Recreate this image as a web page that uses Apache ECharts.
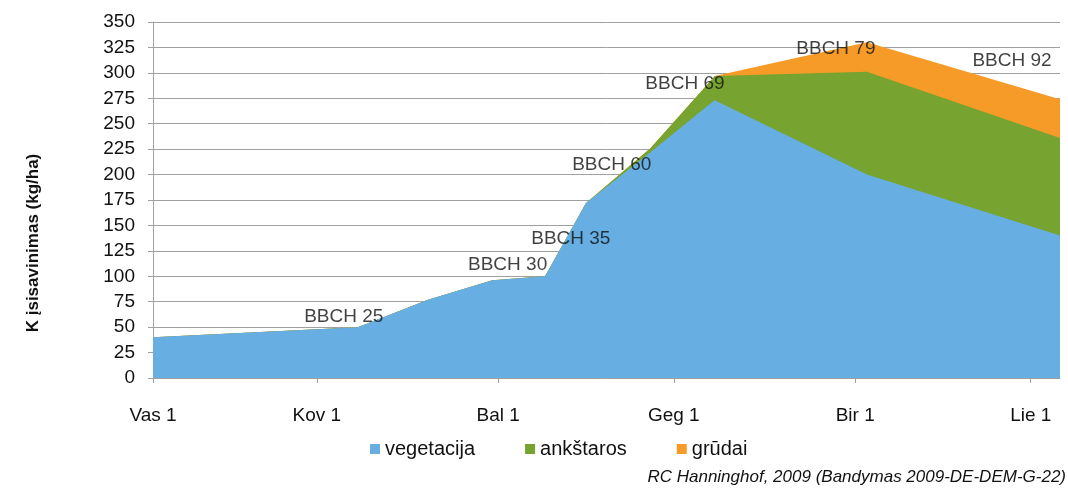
<!DOCTYPE html>
<html>
<head>
<meta charset="utf-8">
<script src="https://cdn.jsdelivr.net/npm/echarts@6/dist/echarts.min.js"></script>
<style>
  html, body { margin: 0; padding: 0; background: #fff; }
  #chart { width: 1068px; height: 488px; }
</style>
</head>
<body>
<div id="chart"></div>
<script>
// dienos nuo vasario 1 d.
const days = [0, 35, 47, 58, 67, 74, 85, 94, 96, 122, 155];
const vegetacija = [40, 50, 77, 96, 100, 172, 222, 264, 273, 200, 140];
const anksteros = [0, 0, 0, 0, 0, 0, 4, 20, 24, 101, 96];
const grudai = [0, 0, 0, 0, 0, 0, 0, 0, 0, 29, 38];

// menesiu pradzios (asies zymes)
const monthDays = [0, 28, 59, 89, 120, 150];
const monthLabels = ['Vas 1', 'Kov 1', 'Bal 1', 'Geg 1', 'Bir 1', 'Lie 1'];

// BBCH stadiju uzrasai
const stageNames = ['BBCH 25', 'BBCH 30', 'BBCH 35', 'BBCH 60', 'BBCH 69', 'BBCH 79', 'BBCH 92'];
const stageDays = [32.6, 60.6, 71.4, 78.4, 90.9, 116.7, 146.8];
const stageValues = [60, 111, 137, 210, 289, 324, 312];

const seriesNames = ['vegetacija', 'ankštaros', 'grūdai'];
const colors = ['#67AEE2', '#77A330', '#F69B28'];

const myChart = echarts.init(document.getElementById('chart'));

// sukaupta suma (dvi vertes asys - stack veiktu pagal x, todel sumuojam patys)
const parts = [vegetacija, anksteros, grudai];
const cumul = [];
parts.forEach((vals, i) => {
  cumul.push(vals.map((v, j) => v + (i ? cumul[i - 1][j] : 0)));
});

const areaSeries = parts.map((vals, i) => ({
  name: seriesNames[i],
  type: 'line',
  symbol: 'none',
  data: days.map((d, j) => [d, cumul[i][j]]),
  lineStyle: { width: 0 },
  itemStyle: { color: colors[i] },
  areaStyle: { color: colors[i], opacity: 1 },
  z: 4 - i
}));

const option = {
  animation: false,
  textStyle: { fontFamily: 'Liberation Sans, Arial, sans-serif', color: '#111' },
  grid: { left: 153, right: 8, top: 22, bottom: 110 },
  legend: {
    data: seriesNames,
    left: 365,
    top: 434,
    itemWidth: 10,
    itemHeight: 10,
    itemGap: 50,
    icon: 'rect',
    textStyle: { fontSize: 20, color: '#111' }
  },
  xAxis: {
    type: 'value',
    min: 0,
    max: 155,
    splitLine: { show: false },
    axisLine: { lineStyle: { color: '#A0A0A0' } },
    axisTick: { customValues: monthDays, length: 5, lineStyle: { color: '#A0A0A0' } },
    axisLabel: {
      customValues: monthDays,
      margin: 28,
      fontSize: 19,
      color: '#111',
      formatter: v => monthLabels[monthDays.indexOf(v)]
    }
  },
  yAxis: {
    type: 'value',
    min: 0,
    max: 350,
    interval: 25,
    name: 'K įsisavinimas (kg/ha)',
    nameLocation: 'middle',
    nameGap: 111,
    nameTextStyle: { fontSize: 17, fontWeight: 'bold', color: '#111', padding: [0, 86, 0, 0] },
    axisLine: { show: true, lineStyle: { color: '#A0A0A0' } },
    axisTick: { show: true, length: 5, lineStyle: { color: '#A0A0A0' } },
    axisLabel: { fontSize: 19, color: '#111', margin: 18 },
    splitLine: { lineStyle: { color: '#A0A0A0' } }
  },
  graphic: [{
    type: 'text',
    right: 2,
    top: 469,
    style: {
      text: 'RC Hanninghof, 2009 (Bandymas 2009-DE-DEM-G-22)',
      fontSize: 17,
      fontStyle: 'italic',
      fontFamily: 'Liberation Sans, Arial, sans-serif',
      fill: '#111'
    }
  }],
  series: areaSeries.concat([{
    name: 'BBCH',
    type: 'scatter',
    symbolSize: 0,
    itemStyle: { color: '#111' },
    silent: true,
    z: 6,
    data: stageDays.map((d, i) => ({ value: [d, stageValues[i]], name: stageNames[i] })),
    label: {
      show: true,
      position: 'inside',
      formatter: p => p.name,
      fontSize: 19,
      color: '#111',
      textBorderWidth: 0
    }
  }])
};

myChart.setOption(option);
</script>
</body>
</html>
